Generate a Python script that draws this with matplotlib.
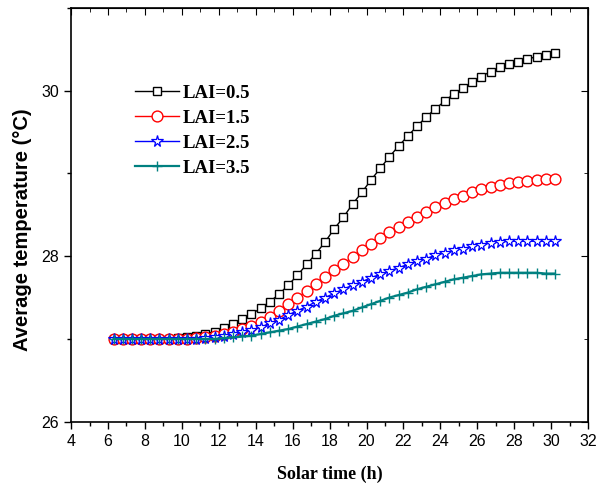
#!/usr/bin/env python3
# average temperature vs solar time for several LAI values
import numpy as np
import matplotlib
matplotlib.use("Agg")
import matplotlib.pyplot as plt
from matplotlib.ticker import MultipleLocator

# solar time (h), 49 samples
time_h = np.linspace(6.3, 30.2, 49)

lai_labels = ["LAI=0.5", "LAI=1.5", "LAI=2.5", "LAI=3.5"]

t_lai05 = [27.00, 27.00, 27.00, 27.00, 27.00, 27.00, 27.00, 27.01, 27.02, 27.04,
           27.06, 27.09, 27.13, 27.18, 27.24, 27.30, 27.37, 27.45, 27.54, 27.65,
           27.77, 27.90, 28.03, 28.17, 28.33, 28.47, 28.63, 28.77, 28.92, 29.06,
           29.20, 29.33, 29.45, 29.57, 29.68, 29.78, 29.87, 29.96, 30.03, 30.10,
           30.17, 30.23, 30.28, 30.32, 30.35, 30.38, 30.41, 30.43, 30.45]
t_lai15 = [27.00, 27.00, 27.00, 27.00, 27.00, 27.00, 27.00, 27.00, 27.00, 27.01,
           27.02, 27.04, 27.06, 27.09, 27.12, 27.16, 27.21, 27.27, 27.34, 27.42,
           27.50, 27.58, 27.66, 27.75, 27.83, 27.91, 27.99, 28.07, 28.15, 28.22,
           28.29, 28.35, 28.41, 28.47, 28.53, 28.59, 28.64, 28.69, 28.73, 28.77,
           28.81, 28.84, 28.86, 28.88, 28.90, 28.91, 28.92, 28.93, 28.93]
t_lai25 = [27.00, 27.00, 27.00, 27.00, 27.00, 27.00, 27.00, 27.00, 27.00, 27.00,
           27.01, 27.02, 27.04, 27.06, 27.08, 27.11, 27.14, 27.19, 27.23, 27.29,
           27.34, 27.39, 27.45, 27.50, 27.55, 27.60, 27.65, 27.69, 27.74, 27.78,
           27.82, 27.86, 27.90, 27.94, 27.97, 28.01, 28.04, 28.07, 28.09, 28.12,
           28.14, 28.16, 28.17, 28.18, 28.18, 28.18, 28.18, 28.18, 28.18]
t_lai35 = [27.00, 27.00, 27.00, 27.00, 27.00, 27.00, 27.00, 27.00, 27.00, 27.00,
           27.00, 27.00, 27.01, 27.02, 27.03, 27.04, 27.06, 27.08, 27.10, 27.12,
           27.15, 27.18, 27.21, 27.24, 27.28, 27.31, 27.34, 27.38, 27.42, 27.46,
           27.50, 27.53, 27.56, 27.60, 27.63, 27.66, 27.69, 27.72, 27.74, 27.76,
           27.78, 27.79, 27.80, 27.80, 27.80, 27.80, 27.80, 27.79, 27.79]

fig = plt.figure(figsize=(6.02, 4.87), dpi=100)
ax = fig.add_axes([0.118, 0.134, 0.859, 0.85])

ax.plot(time_h, t_lai05, color="black", lw=1.0, marker="s", ms=6.3,
        mfc="white", mec="black", mew=1.0, label=lai_labels[0])
ax.plot(time_h, t_lai15, color="red", lw=1.0, marker="o", ms=7.8,
        mfc="white", mec="red", mew=1.0, label=lai_labels[1])
ax.plot(time_h, t_lai25, color="blue", lw=1.0, marker="*", ms=8.5,
        mfc="white", mec="blue", mew=0.9, label=lai_labels[2])
ax.plot(time_h, t_lai35, color="#008080", lw=1.6, marker="+", ms=7,
        mec="#008080", mew=1.0, label=lai_labels[3])

ax.set_xlim(4, 32)
ax.set_ylim(26, 31)
ax.xaxis.set_major_locator(MultipleLocator(2))
ax.xaxis.set_minor_locator(MultipleLocator(1))
ax.yaxis.set_major_locator(MultipleLocator(2))
ax.yaxis.set_minor_locator(MultipleLocator(1))

ax.tick_params(which="both", direction="out", width=1.0)
ax.tick_params(which="major", length=5)
ax.tick_params(which="minor", length=3)
for lab in ax.get_xticklabels() + ax.get_yticklabels():
    lab.set_fontfamily("Liberation Sans")
    lab.set_fontsize(11.5)

# top and right axes with inward ticks, no labels
top = ax.secondary_xaxis("top")
top.xaxis.set_major_locator(MultipleLocator(2))
top.xaxis.set_minor_locator(MultipleLocator(1))
top.tick_params(which="both", direction="in", labeltop=False)
top.tick_params(which="major", length=5)
top.tick_params(which="minor", length=3)
right = ax.secondary_yaxis("right")
right.yaxis.set_major_locator(MultipleLocator(2))
right.yaxis.set_minor_locator(MultipleLocator(1))
right.tick_params(which="both", direction="in", labelright=False)
right.tick_params(which="major", length=5)
right.tick_params(which="minor", length=3)

for s in ax.spines.values():
    s.set_linewidth(1.2)

ax.set_xlabel("Solar time (h)", fontfamily="Liberation Serif",
              fontweight="bold", fontsize=13, labelpad=12)
ax.set_ylabel("Average temperature (\u00b0C)", fontfamily="Liberation Sans",
              fontweight="bold", fontsize=14.5)
ax.yaxis.set_label_coords(-0.075, 0.464)

ax.legend(loc="upper left", bbox_to_anchor=(0.092, 0.855), frameon=False,
          prop={"family": "Liberation Serif", "weight": "bold", "size": 13.5},
          handlelength=2.3, labelspacing=0.42, handletextpad=0.2)

fig.savefig("out.png", dpi=100)
